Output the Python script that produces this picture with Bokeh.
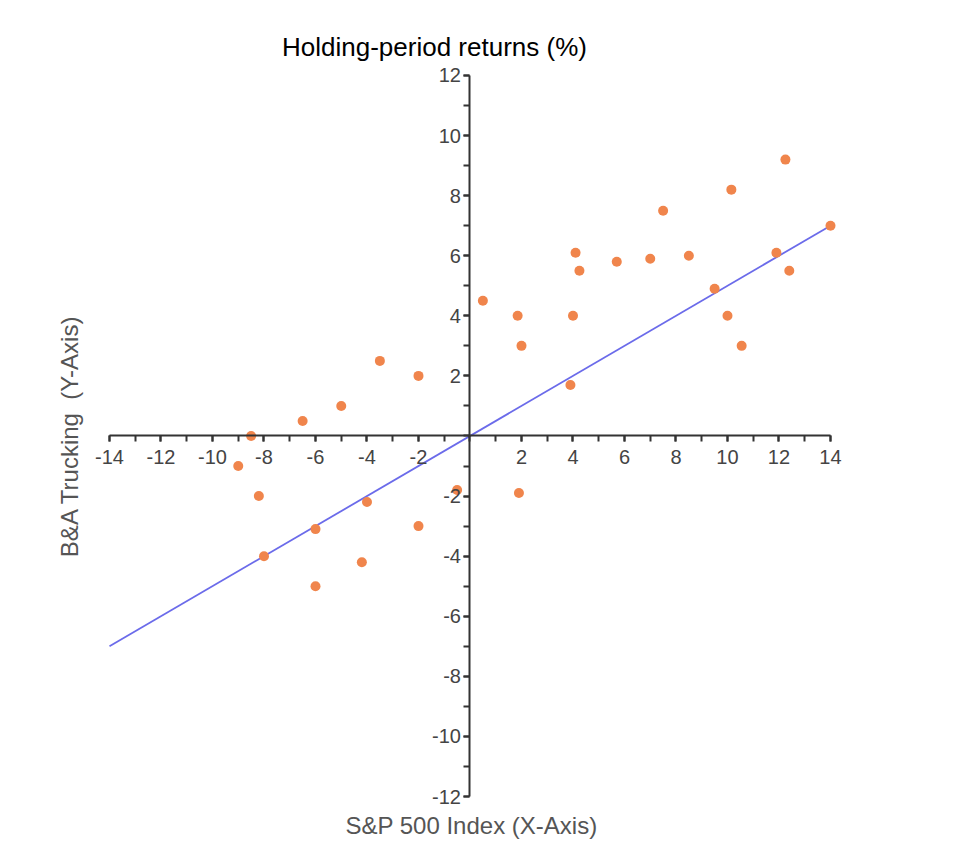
from bokeh.plotting import figure
from bokeh.models import Range1d, FixedTicker, Label, CustomJSTickFormatter
from bokeh.embed import file_html
from bokeh.resources import INLINE

# Data
sp500 = [-3.5, -2, -5, -6.5, -8.5, -9, -8.2, -8, -6, -6, -4, -4.2, -2, -0.5, 1.9,
         0.5, 1.85, 2, 4.1, 4.25, 4, 3.9, 5.7, 7, 7.5, 8.5, 9.5, 10, 10.55, 10.15,
         12.25, 11.9, 12.4, 14]
trucking = [2.5, 2, 1, 0.5, 0, -1, -2, -4, -3.1, -5, -2.2, -4.2, -3, -1.8, -1.9,
            4.5, 4, 3, 6.1, 5.5, 4, 1.7, 5.8, 5.9, 7.5, 6, 4.9, 4, 3, 8.2,
            9.2, 6.1, 5.5, 7]
line_x = [-14, 14]
line_y = [-7, 7]

x_major = [-14, -12, -10, -8, -6, -4, -2, 2, 4, 6, 8, 10, 12, 14]
x_minor = list(range(-14, 15))
y_major = [-12, -10, -8, -6, -4, -2, 2, 4, 6, 8, 10, 12]
y_minor = list(range(-12, 13))

title_text = "Holding-period returns (%)"
x_label = "S&P 500 Index (X-Axis)"
y_label = "B&A Trucking \u00a0(Y-Axis)"

FONT = "Liberation Sans"

# frame covers the whole canvas; axes are drawn at the origin
p = figure(
    output_backend="svg", toolbar_location=None,
    x_range=Range1d(-18.233, 19.282), y_range=Range1d(-13.864, 14.496),
    frame_width=966, frame_height=852,
    min_border=0,
)
p.outline_line_color = None
p.xgrid.visible = False
p.ygrid.visible = False
p.background_fill_color = "white"
p.border_fill_color = "white"

fmt = CustomJSTickFormatter(code="return String(tick);")

for ax, major, minor, bnds in ((p.xaxis[0], x_major, x_minor, (-14, 14)),
                               (p.yaxis[0], y_major, y_minor, (-12, 12))):
    ax.fixed_location = 0
    ax.bounds = bnds
    ax.ticker = FixedTicker(ticks=major, minor_ticks=minor)
    ax.formatter = fmt
    ax.axis_line_color = "#333333"
    ax.axis_line_width = 2
    ax.major_tick_line_color = "#333333"
    ax.major_tick_line_width = 2
    ax.minor_tick_line_color = "#333333"
    ax.minor_tick_line_width = 2
    ax.major_tick_in = 0
    ax.major_tick_out = 6
    ax.minor_tick_in = 0
    ax.minor_tick_out = 6
    ax.major_label_text_font = FONT
    ax.major_label_text_font_size = "20px"
    ax.major_label_text_color = "#444444"

p.xaxis[0].major_label_standoff = 8
p.yaxis[0].major_label_standoff = 3

p.line(line_x, line_y, line_color="#6b6bea", line_width=1.8)
p.scatter(sp500, trucking, size=10, fill_color="#f0854c", line_color=None)

p.add_layout(Label(x=-1.38, y=12.96, text=title_text, text_align="center",
                   text_baseline="alphabetic", text_font=FONT,
                   text_font_size="26px", text_color="#000000"))
p.add_layout(Label(x=0.06, y=-12.96, text=x_label, text_align="center",
                   text_baseline="alphabetic", text_font=FONT,
                   text_font_size="24px", text_color="#555555"))
p.add_layout(Label(x=-15.56, y=0.0, text=y_label, text_align="center",
                   text_baseline="alphabetic", angle=1.5707963, text_font=FONT,
                   text_font_size="24px", text_color="#555555"))

open("out.html", "w").write(file_html(p, INLINE))
